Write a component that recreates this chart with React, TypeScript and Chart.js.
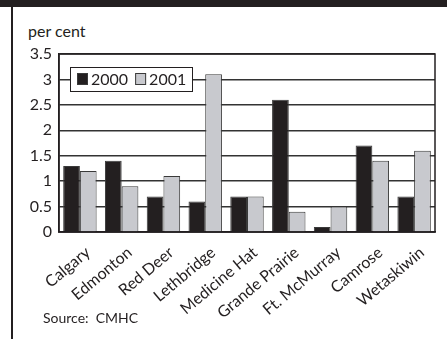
import { useEffect, useRef } from "react";
import { Chart, registerables } from "chart.js";

Chart.register(...registerables);

// Rental vacancy rates by centre
const cities = [
  "Calgary",
  "Edmonton",
  "Red Deer",
  "Lethbridge",
  "Medicine Hat",
  "Grande Prairie",
  "Ft. McMurray",
  "Camrose",
  "Wetaskiwin",
];
const rates2000 = [1.3, 1.4, 0.7, 0.6, 0.7, 2.6, 0.1, 1.7, 0.7];
const rates2001 = [1.2, 0.9, 1.1, 3.1, 0.7, 0.4, 0.5, 1.4, 1.6];
const seriesLabels = ["2000", "2001"];
const yMin = 0;
const yMax = 3.5;
const yStep = 0.5;

const FONT = "Lato, 'Open Sans', sans-serif";
const INK = "#231f20";
const DARK = "#231f20";
const LIGHT = "#c8c9ce";

// Frame around the plot area
const plotFrame = {
  id: "plotFrame",
  beforeDatasetsDraw(chart: any) {
    const { ctx, chartArea } = chart;
    ctx.save();
    ctx.strokeStyle = INK;
    ctx.lineWidth = 1.5;
    ctx.strokeRect(
      chartArea.left,
      chartArea.top,
      chartArea.right - chartArea.left,
      chartArea.bottom - chartArea.top
    );
    ctx.restore();
  },
};

// Legend box drawn inside the plot area, top-left
const insetLegend = {
  id: "insetLegend",
  afterDatasetsDraw(chart: any) {
    const { ctx, chartArea } = chart;
    const x = Math.round(chartArea.left + 11);
    const y = Math.round(chartArea.top + 13);
    const w = 122;
    const h = 24;
    ctx.save();
    ctx.fillStyle = "#ffffff";
    ctx.fillRect(x, y, w, h);
    ctx.strokeStyle = INK;
    ctx.lineWidth = 1;
    ctx.strokeRect(x + 0.5, y + 0.5, w, h);
    ctx.font = `16px ${FONT}`;
    ctx.textBaseline = "middle";
    let cx = x + 7;
    chart.data.datasets.forEach((ds: any) => {
      ctx.fillStyle = ds.backgroundColor;
      ctx.fillRect(cx, y + 6, 11, 12);
      ctx.strokeStyle = "#3a3a3a";
      ctx.strokeRect(cx + 0.5, y + 6.5, 10, 11);
      ctx.fillStyle = INK;
      ctx.fillText(ds.label, cx + 14, y + h / 2 + 1);
      cx += 14 + ctx.measureText(ds.label).width + 7;
    });
    ctx.restore();
  },
};

export default function App() {
  const canvasRef = useRef<HTMLCanvasElement | null>(null);

  useEffect(() => {
    if (!canvasRef.current) return;
    const chart = new Chart(canvasRef.current, {
      type: "bar",
      data: {
        labels: cities,
        datasets: [
          {
            label: seriesLabels[0],
            data: rates2000,
            backgroundColor: DARK,
            borderColor: "#3a3a3a",
            borderWidth: 1,
          },
          {
            label: seriesLabels[1],
            data: rates2001,
            backgroundColor: LIGHT,
            borderColor: "#3a3a3a",
            borderWidth: 1,
          },
        ],
      },
      options: {
        responsive: false,
        animation: false,
        layout: { padding: { top: 54, right: 12, bottom: 0, left: 0 } },
        plugins: {
          legend: { display: false },
          tooltip: { enabled: false },
        },
        datasets: {
          bar: { categoryPercentage: 0.8, barPercentage: 1.0 },
        },
        scales: {
          x: {
            grid: { display: false },
            border: { display: true, color: INK, width: 1.5 },
            ticks: {
              color: INK,
              font: { family: FONT, size: 16 },
              maxRotation: 40,
              minRotation: 40,
              padding: 3,
              labelOffset: 8,
              autoSkip: false,
            },
            afterFit(scale: any) {
              scale.height = 107;
            },
          },
          y: {
            min: yMin,
            max: yMax,
            grid: { color: "#333333", lineWidth: 1.5, drawTicks: false },
            border: { display: true, color: INK, width: 1.5 },
            ticks: {
              stepSize: yStep,
              color: INK,
              font: { family: FONT, size: 16 },
              padding: 7,
              callback: (v: any) => String(v),
            },
            afterFit(scale: any) {
              scale.width = 59;
            },
          },
        },
      },
      plugins: [plotFrame, insetLegend],
    });
    return () => chart.destroy();
  }, []);

  return (
    <div
      style={{
        position: "absolute",
        left: 0,
        top: 0,
        width: 447,
        height: 339,
        background: "#ffffff",
        overflow: "hidden",
        fontFamily: FONT,
        color: INK,
      }}
    >
      <div
        style={{
          position: "absolute",
          left: 0,
          top: 0,
          width: 447,
          height: 7,
          background: INK,
        }}
      />
      <div
        style={{
          position: "absolute",
          left: 11,
          top: 7,
          width: 2,
          height: 332,
          background: INK,
        }}
      />
      <div
        style={{
          position: "absolute",
          left: 28,
          top: 22,
          fontSize: 16,
          lineHeight: "18px",
          whiteSpace: "nowrap",
        }}
      >
        per cent
      </div>
      <canvas
        ref={canvasRef}
        width={447}
        height={339}
        style={{ position: "absolute", left: 0, top: 0 }}
      />
      <div
        style={{
          position: "absolute",
          left: 43,
          top: 310,
          fontSize: 14,
          lineHeight: "16px",
          whiteSpace: "nowrap",
        }}
      >
        Source:&nbsp;&nbsp;CMHC
      </div>
    </div>
  );
}
